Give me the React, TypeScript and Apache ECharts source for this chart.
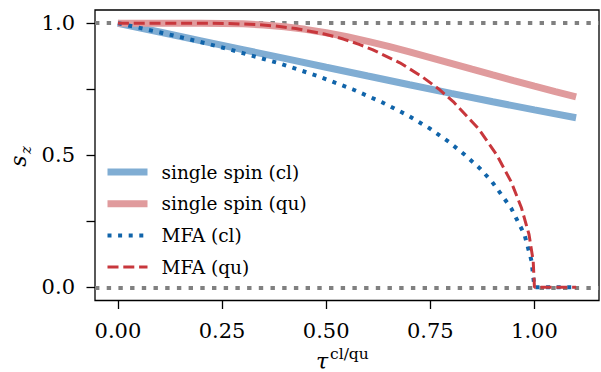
import React, { useEffect, useRef } from "react";
import * as echarts from "echarts";

// ---- data ----
const tauSingleCl = [0, 0.1, 0.2, 0.3, 0.4, 0.5, 0.6, 0.7, 0.8, 0.9, 1.0, 1.1];
const sSingleCl = [1, 0.9667, 0.9333, 0.9, 0.8667, 0.8333, 0.8001, 0.7671, 0.7344, 0.7025, 0.6716, 0.6419];

const tauSingleQu = [0, 0.05, 0.1, 0.15, 0.2, 0.25, 0.3, 0.35, 0.4, 0.45, 0.5, 0.55, 0.6, 0.65, 0.7, 0.75, 0.8, 0.85, 0.9, 0.95, 1.0, 1.05, 1.1];
const sSingleQu = [1, 1, 1, 1, 0.9999, 0.9993, 0.9975, 0.9934, 0.9866, 0.9768, 0.964, 0.9486, 0.9311, 0.9119, 0.8914, 0.87, 0.8483, 0.8263, 0.8044, 0.7829, 0.7616, 0.741, 0.7208];

const tauMfaCl = [0, 0.059, 0.087, 0.143, 0.208, 0.27, 0.383, 0.48, 0.563, 0.635, 0.697, 0.75, 0.795, 0.834, 0.869, 0.898, 0.944, 0.976, 0.993, 1.0, 1.1];
const sMfaCl = [1, 0.98, 0.97, 0.95, 0.925, 0.9, 0.85, 0.8, 0.75, 0.7, 0.65, 0.6, 0.55, 0.5, 0.45, 0.4, 0.3, 0.2, 0.1, 0, 0];

const tauMfaQu = [0, 0.1, 0.202, 0.263, 0.332, 0.374, 0.427, 0.493, 0.519, 0.541, 0.579, 0.611, 0.677, 0.728, 0.771, 0.807, 0.866, 0.91, 0.944, 0.969, 0.987, 0.997, 1.0, 1.1];
const sMfaQu = [1, 1, 0.9999, 0.999, 0.995, 0.99, 0.98, 0.96, 0.95, 0.94, 0.92, 0.9, 0.85, 0.8, 0.75, 0.7, 0.6, 0.5, 0.4, 0.3, 0.2, 0.1, 0, 0];

const referenceLevels = [0, 1];
const xTickValues = [0, 0.25, 0.5, 0.75, 1.0];
const yTickValues = [0, 0.25, 0.5, 0.75, 1.0];
const yLabelValues = [0, 0.5, 1.0];
const seriesNames = ["single spin (cl)", "single spin (qu)", "MFA (cl)", "MFA (qu)"];

const FONT = "DejaVu Serif";

const zip = (xs: number[], ys: number[]) => xs.map((x, i) => [x, ys[i]]);

export default function App() {
  const ref = useRef<HTMLDivElement>(null);

  useEffect(() => {
    if (!ref.current) return;
    const chart = echarts.init(ref.current, null, { renderer: "svg" });

    const option: any = {
      animation: false,
      backgroundColor: "#ffffff",
      textStyle: { fontFamily: FONT },
      grid: {
        left: 95,
        right: 2,
        top: 10,
        bottom: 71.5,
        show: true,
        borderColor: "#000",
        borderWidth: 1.3,
        backgroundColor: "transparent",
      },
      xAxis: {
        type: "value",
        min: -0.055,
        max: 1.155,
        axisLine: { show: false, onZero: false },
        splitLine: { show: false },
        axisTick: {
          show: true,
          customValues: xTickValues,
          length: 8.5,
          lineStyle: { color: "#000", width: 1.3 },
        },
        axisLabel: {
          customValues: xTickValues,
          formatter: (v: number) => v.toFixed(2),
          fontFamily: FONT,
          fontSize: 21,
          color: "#000",
          margin: 20,
        },
      },
      yAxis: {
        type: "value",
        min: -0.05,
        max: 1.05,
        axisLine: { show: false, onZero: false },
        splitLine: { show: false },
        axisTick: {
          show: true,
          customValues: yTickValues,
          length: 8.5,
          lineStyle: { color: "#000", width: 1.3 },
        },
        axisLabel: {
          customValues: yLabelValues,
          formatter: (v: number) => v.toFixed(1),
          fontFamily: FONT,
          fontSize: 21,
          color: "#000",
          margin: 20,
        },
      },
      legend: {
        orient: "vertical",
        left: 104,
        top: 160,
        padding: 0,
        itemWidth: 40,
        itemHeight: 14,
        itemGap: 7.7,
        selectedMode: false,
        data: seriesNames,
        itemStyle: { opacity: 0 },
        lineStyle: { width: "inherit" },
        textStyle: {
          fontFamily: FONT,
          fontSize: 18.5,
          color: "#000",
          lineHeight: 24,
          padding: [0, 0, 0, 9],
        },
      },
      series: [
        {
          name: seriesNames[0],
          type: "line",
          data: zip(tauSingleCl, sSingleCl),
          symbol: "none",
          z: 2,
          lineStyle: { color: "#80add3", width: 7 },
          itemStyle: { color: "#80add3" },
          markLine: {
            silent: true,
            symbol: "none",
            z: 1,
            label: { show: false },
            lineStyle: { color: "#808080", width: 4, type: [4.4, 7.3] },
            data: referenceLevels.map((v) => ({ yAxis: v })),
          },
        },
        {
          name: seriesNames[1],
          type: "line",
          data: zip(tauSingleQu, sSingleQu),
          symbol: "none",
          z: 3,
          lineStyle: { color: "#e09b9d", width: 7 },
          itemStyle: { color: "#e09b9d" },
        },
        {
          name: seriesNames[2],
          type: "line",
          data: zip(tauMfaCl, sMfaCl),
          symbol: "none",
          z: 4,
          lineStyle: { color: "#1064aa", width: 4, type: [4, 6.6] },
          itemStyle: { color: "#1064aa" },
        },
        {
          name: seriesNames[3],
          type: "line",
          data: zip(tauMfaQu, sMfaQu),
          symbol: "none",
          z: 5,
          lineStyle: { color: "#c8373c", width: 3, type: [11, 4.8] },
          itemStyle: { color: "#c8373c" },
        },
      ],
      graphic: [
        {
          type: "group",
          x: 18.5,
          y: 161,
          rotation: Math.PI / 2,
          children: [
            {
              type: "text",
              x: 0,
              y: 0,
              style: {
                text: "s",
                fontFamily: FONT,
                fontStyle: "italic",
                fontSize: 22,
                fill: "#000",
                align: "center",
                verticalAlign: "middle",
              },
            },
            {
              type: "text",
              x: 11,
              y: 7,
              style: {
                text: "z",
                fontFamily: FONT,
                fontStyle: "italic",
                fontSize: 15,
                fill: "#000",
                align: "center",
                verticalAlign: "middle",
              },
            },
          ],
        },
        {
          type: "text",
          x: 322,
          y: 361,
          style: {
            text: "τ",
            fontFamily: FONT,
            fontStyle: "italic",
            fontSize: 22,
            fill: "#000",
            align: "center",
            verticalAlign: "middle",
          },
        },
        {
          type: "text",
          x: 330,
          y: 354,
          style: {
            text: "cl/qu",
            fontFamily: FONT,
            fontSize: 15.5,
            fill: "#000",
            align: "left",
            verticalAlign: "middle",
          },
        },
      ],
    };

    chart.setOption(option);
    return () => chart.dispose();
  }, []);

  return (
    <div
      ref={ref}
      style={{ position: "fixed", left: 0, top: 0, width: 601, height: 372 }}
    />
  );
}
